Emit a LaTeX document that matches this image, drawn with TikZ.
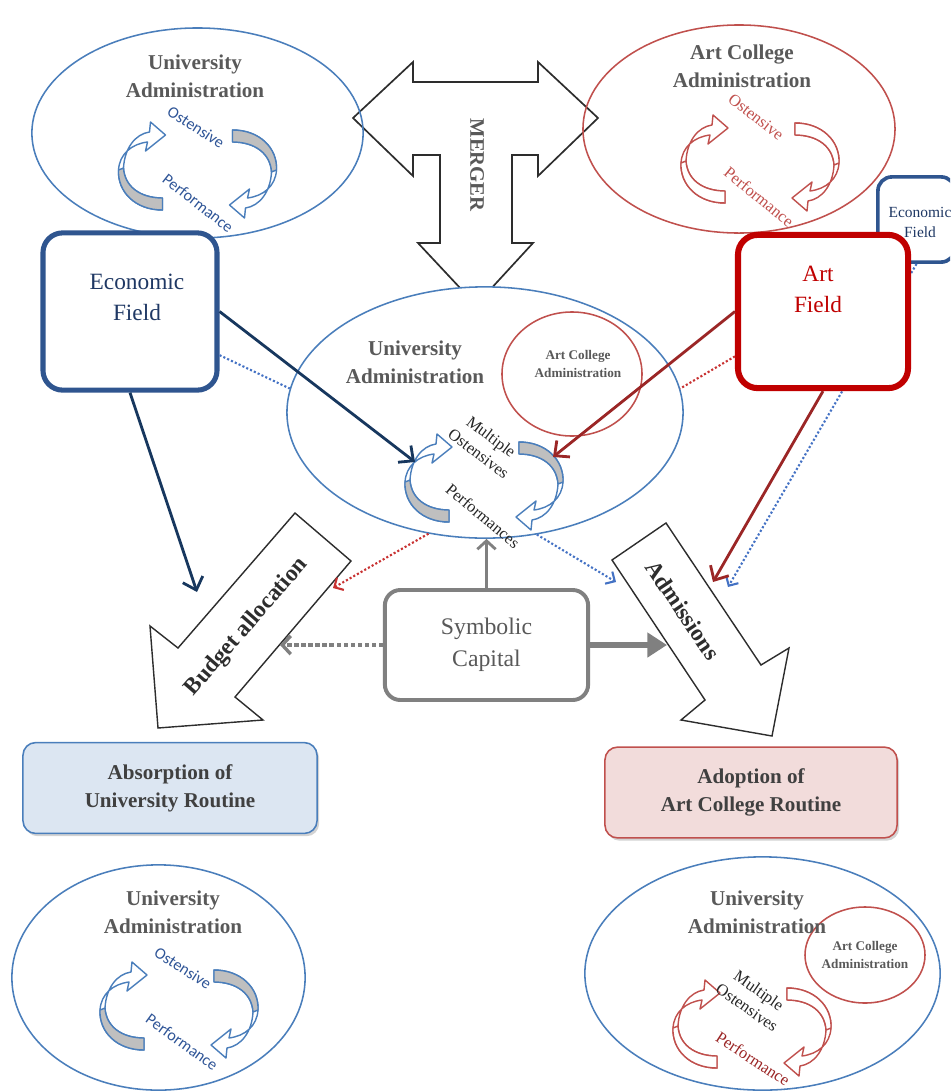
\documentclass[tikz,border=0pt]{standalone}
\usepackage{fontspec}
\setmainfont{Liberation Serif}
\newfontfamily\calfont{Carlito}
\usetikzlibrary{shapes.geometric,arrows.meta,shadows}

\definecolor{uniblue}{RGB}{74,126,187}
\definecolor{artred}{RGB}{192,80,77}
\definecolor{titlegray}{RGB}{89,89,89}
\definecolor{loopgray}{RGB}{191,191,191}
\definecolor{lblblue}{RGB}{47,85,151}
\definecolor{econframe}{RGB}{47,85,143}
\definecolor{econtext}{RGB}{31,56,100}
\definecolor{econdark}{RGB}{23,55,94}
\definecolor{artframe}{RGB}{192,0,0}
\definecolor{artdark}{RGB}{155,38,38}
\definecolor{dotblue}{RGB}{68,114,196}
\definecolor{dotred}{RGB}{200,50,50}
\definecolor{symgray}{RGB}{128,128,128}
\definecolor{blockline}{RGB}{45,45,45}
\definecolor{routblue}{RGB}{220,230,242}
\definecolor{routred}{RGB}{242,220,219}

\tikzset{
  pics/halfloop/.style 2 args={code={
    \draw[draw=#1, fill=white, line width=1pt, line join=round]
      (-35,40) .. controls (-62,40) and (-80,22) .. (-79,0)
      .. controls (-78,-16) and (-66,-26) .. (-50,-28)
      -- (-52,-19) -- (-32,-35) -- (-47,-48) -- (-48,-38)
      .. controls (-62,-36) and (-73,-22) .. (-74,-2)
      .. controls (-73,16) and (-58,28) .. (-35,28) -- cycle;
    \draw[draw=#1, fill=#2, line width=1pt, line join=round]
      (-35,40) .. controls (-62,40) and (-80,22) .. (-79,0)
      -- (-74,-2) .. controls (-73,16) and (-58,28) .. (-35,28) -- cycle;
  }},
  uniell/.style={ellipse, draw=uniblue, line width=1.1pt, inner sep=0pt},
  artell/.style={ellipse, draw=artred, line width=1.1pt, inner sep=0pt},
  admtitle/.style={font=\bfseries\fontsize{15}{20}\selectfont, text=titlegray, align=center},
  smalltitle/.style={font=\bfseries\fontsize{9.4}{12.8}\selectfont, text=titlegray, align=center},
  callabel/.style={font=\calfont\fontsize{11.5}{14}\selectfont, text=lblblue},
  serlabel/.style={font=\fontsize{11.7}{14.8}\selectfont, align=center},
  fieldbox/.style={rectangle, rounded corners=14pt, fill=white, inner sep=0pt},
  fieldtext/.style={font=\fontsize{16.6}{22}\selectfont, align=center},
  symbox/.style={rectangle, rounded corners=11pt, draw=symgray, line width=2.8pt, fill=white,
    minimum width=5.08cm, minimum height=2.75cm, font=\fontsize{16.9}{22.8}\selectfont,
    text=titlegray, align=center},
  routine/.style={rectangle, rounded corners=9pt, line width=1.1pt, minimum width=7.35cm,
    minimum height=2.27cm, font=\bfseries\fontsize{15}{20}\selectfont, text=black!75,
    align=center, drop shadow={opacity=0.35, shadow xshift=1.5pt, shadow yshift=-2pt}},
  blockarrow/.style={draw=blockline, fill=white, line width=1pt, line join=miter},
  blocktext/.style={font=\bfseries\fontsize{16.6}{20}\selectfont, text=blockline},
  econarrow/.style={draw=econdark, line width=2pt, -{Straight Barb[length=8pt,width=15pt]}},
  artarrow/.style={draw=artdark, line width=2pt, -{Straight Barb[length=8pt,width=15pt]}},
  dotline/.style={line width=1.5pt, dash pattern=on 1.5pt off 1.5pt},
  dothead/.style={-{Straight Barb[length=5pt,width=10pt]}}
}

\begin{document}
\begin{tikzpicture}[x=0.025cm, y=-0.025cm]
\useasboundingbox (0,0) rectangle (950,1092);
\clip (0,0) rectangle (950,1092);

\draw[blockarrow, line width=1.2pt] (353,118) -- (413,62) -- (413,82) -- (538,82) -- (538,62)
  -- (598,118) -- (538,176) -- (538,155) -- (512,155) -- (512,243) -- (533,243) -- (476,305)
  -- (418,243) -- (440,243) -- (440,155) -- (413,155) -- (413,176) -- cycle;
\node[font=\bfseries\fontsize{14.7}{16}\selectfont, text=titlegray, rotate=-90] (merger) at (477,165) {MERGER};

\node[uniell, minimum width=8.28cm, minimum height=5.25cm] (ua-top) at (197.5,133) {};
\node[admtitle] (ua-top-t) at (195,76) {University\\Administration};
\pic at (197.5,170) {halfloop={uniblue}{loopgray}};
\pic[rotate=180] at (197.5,170) {halfloop={uniblue}{loopgray}};
\node[callabel, rotate=-33] (ua-top-o) at (196,127) {Ostensive};
\node[callabel, rotate=-38] (ua-top-p) at (198,203) {Performance};

\node[artell, minimum width=7.8cm, minimum height=5.2cm] (ac-top) at (739,129) {};
\node[admtitle] (ac-top-t) at (742,66) {Art College\\Administration};
\pic at (760,163) {halfloop={artred}{white}};
\pic[rotate=180] at (760,163) {halfloop={artred}{white}};
\node[serlabel, text=artred, rotate=-38] (ac-top-o) at (756,117) {Ostensive};
\node[serlabel, text=artred, rotate=-39] (ac-top-p) at (759,197) {Performance};

\node[uniell, fill=white, minimum width=9.9cm, minimum height=6.28cm] (ua-mid) at (485,412.5) {};
\node[admtitle] (ua-mid-t) at (415,362) {University\\Administration};
\node[artell, minimum width=3.5cm, minimum height=3.1cm] (ac-mid) at (572,374) {};
\node[smalltitle] (ac-mid-t) at (578,364) {Art College\\Administration};
\pic at (484,482) {halfloop={uniblue}{loopgray}};
\pic[rotate=180] at (484,482) {halfloop={uniblue}{loopgray}};
\node[serlabel, text=black!85, rotate=-37] (ua-mid-o) at (485,445) {Multiple\\Ostensives};
\node[serlabel, text=black!85, rotate=-40] (ua-mid-p) at (483,516) {Performances};

\node[fieldbox, draw=econframe, line width=2.6pt, rounded corners=10pt,
  minimum width=1.93cm, minimum height=2.13cm] (econ-small) at (916.5,219.5) {};
\node[font=\fontsize{11}{14.2}\selectfont, text=econtext, align=center] (econ-small-t) at (920,222) {Economic\\Field};
\draw[dotline, draw=dotblue, dothead] (econ-small.south) -- (728,587) coordinate (adm-blue);

\node[fieldbox, draw=econframe, line width=3.6pt, minimum width=4.35cm, minimum height=3.93cm] (econ) at (130,311.5) {};
\node[fieldtext, text=econtext] (econ-t) at (137,297) {Economic\\Field};
\node[fieldbox, draw=artframe, line width=4.3pt, minimum width=4.25cm, minimum height=3.83cm] (art) at (823,311.5) {};
\node[fieldtext, text=artframe] (art-t) at (818,289) {Art\\Field};

\draw[blockarrow] (295,513) -- (178,648) -- (150,626) -- (158,728) -- (263,720) -- (235,697) -- (351,561) -- cycle;
\node[blocktext, rotate=49] (budget) at (247,627) {Budget allocation};
\draw[blockarrow] (612,560) -- (666,523) -- (761,665) -- (789,648) -- (772,736) -- (681,720) -- (705,700) -- cycle;
\node[blocktext, rotate=-56] (admissions) at (683,610) {Admissions};

\node[symbox] (symbolic) at (486.5,645) {Symbolic\\Capital};

\coordinate (mid-econ) at (415,462);
\coordinate (mid-art) at (553,457);
\coordinate (bud-econ) at (197,592);
\coordinate (adm-art) at (713,582);
\coordinate (bud-red) at (333,588);
\coordinate (adm-dot) at (616,582);
\coordinate (bud-sym) at (280,645);
\coordinate (adm-sym) at (667,645);

\draw[dotline, draw=dotblue] (econ.-26) -- (ua-mid.173);
\draw[dotline, draw=dotred] (art.207) -- (ua-mid.7);
\draw[econarrow] (econ.east) -- (mid-econ);
\draw[econarrow] (econ.south) -- (bud-econ);
\draw[artarrow] (art.west) -- (mid-art);
\draw[artarrow] (art.south) -- (adm-art);
\draw[dotline, draw=dotred, dothead] (ua-mid.245) -- (bud-red);
\draw[dotline, draw=dotblue, dothead] (ua-mid.293) -- (adm-dot);
\draw[draw=symgray, line width=2pt, -{Straight Barb[length=6pt,width=13pt]}] (symbolic.north) -- (symbolic.north |- ua-mid.south);
\draw[draw=symgray, line width=2.4pt, dash pattern=on 3pt off 2pt, -{Straight Barb[length=6pt,width=13pt]}] (symbolic.west) -- (bud-sym);
\draw[draw=symgray, line width=4.5pt, -{Triangle[length=14pt,width=17pt]}] (symbolic.east) -- (adm-sym);

\node[routine, draw=uniblue, fill=routblue] (absorb) at (170,788) {Absorption of\\University Routine};
\node[routine, draw=artred, fill=routred, minimum width=7.3cm] (adopt) at (751,792.5) {Adoption of\\Art College Routine};

\node[uniell, minimum width=7.33cm, minimum height=5.63cm] (ua-bl) at (158.5,977.5) {};
\node[admtitle] (ua-bl-t) at (173,912) {University\\Administration};
\pic at (179,1010) {halfloop={uniblue}{loopgray}};
\pic[rotate=180] at (179,1010) {halfloop={uniblue}{loopgray}};
\node[callabel, rotate=-33] (ua-bl-o) at (183,968) {Ostensive};
\node[callabel, rotate=-36] (ua-bl-p) at (182,1042) {Performance};

\node[uniell, minimum width=8.88cm, minimum height=5.83cm] (ua-br) at (762.5,973.5) {};
\node[artell, minimum width=3.0cm, minimum height=2.4cm] (ac-br) at (865,955) {};
\node[smalltitle] (ac-br-t) at (865,955) {Art College\\Administration};
\node[admtitle] (ua-br-t) at (757,912) {University\\Administration};
\pic at (752,1028) {halfloop={artred}{white}};
\pic[rotate=180] at (752,1028) {halfloop={artred}{white}};
\node[serlabel, text=black!85, rotate=-35] (ua-br-o) at (753,999) {Multiple\\Ostensives};
\node[serlabel, text=artdark, rotate=-33] (ua-br-p) at (753,1059) {Performance};
\end{tikzpicture}
\end{document}
